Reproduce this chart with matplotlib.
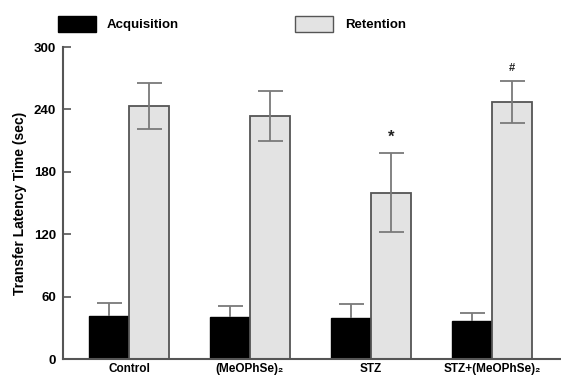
import matplotlib
matplotlib.use('Agg')
import matplotlib.pyplot as plt
import numpy as np
from matplotlib.patches import Rectangle

plt.rcParams['font.family'] = ['Liberation Sans', 'DejaVu Sans']
plt.rcParams['font.weight'] = 'bold'

groups = ['Control', '(MeOPhSe)\u2082', 'STZ', 'STZ+(MeOPhSe)\u2082']
acq = [41, 40, 39, 36.5]
acq_err = [13, 11, 14, 7.5]
ret = [243, 234, 160, 247]
ret_err = [22, 24, 38, 20]
marks = ['', '', '*', '#']

fig = plt.figure(figsize=(5.61, 3.76), dpi=100)
ax = fig.add_axes([63/561, 17/376, 1 - 63/561, 312/376])

x = np.arange(len(groups))
w = 0.33
ekw = dict(ecolor='#7a7a7a', elinewidth=1.3, capsize=9, capthick=1.3, fmt='none')
ax.bar(x - w/2, acq, w, color='black', edgecolor='black', linewidth=1, zorder=2)
ax.bar(x + w/2, ret, w, color='#e3e3e3', edgecolor='#555555', linewidth=1.3, zorder=2)

# acquisition: only the upper half of the error bar is visible
eb = ax.errorbar(x - w/2, acq, yerr=[np.zeros(len(acq)), acq_err], zorder=3, **ekw)
eb[1][0].set_visible(False)
ax.errorbar(x + w/2, ret, yerr=ret_err, zorder=3, **ekw)

for xi, v, e, m in zip(x, ret, ret_err, marks):
    if m:
        ax.text(xi + w/2, v + e + 8, m, ha='center', va='bottom',
                fontsize=12 if m == '*' else 8, fontweight='bold', color='#222222')

ax.set_xlim(-0.545, 3.57)
ax.set_ylim(0, 300)
ax.set_yticks([0, 60, 120, 180, 240, 300])
ax.set_xticks(x)
ax.set_xticklabels(groups)
ax.tick_params(axis='x', length=0, pad=3, labelsize=8.5)
ax.tick_params(axis='y', direction='in', length=6, width=1.2, pad=5,
               labelsize=9.5, color='#555555')
for s in ['top', 'right']:
    ax.spines[s].set_visible(False)
for s in ['left', 'bottom']:
    ax.spines[s].set_color('#555555')
    ax.spines[s].set_linewidth(1.5)
ax.set_ylabel('Transfer Latency Time (sec)', fontsize=10, fontweight='bold', labelpad=5)

# legend drawn in figure coords
fig.patches.append(Rectangle((58/561, 1 - 32/376), 38/561, 16/376, transform=fig.transFigure,
                             facecolor='black', edgecolor='black'))
fig.text(107/561, 1 - 25/376, 'Acquisition', fontsize=9.5, fontweight='bold', va='center')
fig.patches.append(Rectangle((295/561, 1 - 32/376), 38/561, 16/376, transform=fig.transFigure,
                             facecolor='#e3e3e3', edgecolor='#555555', linewidth=1))
fig.text(345/561, 1 - 25/376, 'Retention', fontsize=9.5, fontweight='bold', va='center')

fig.savefig('out.png', dpi=100)
